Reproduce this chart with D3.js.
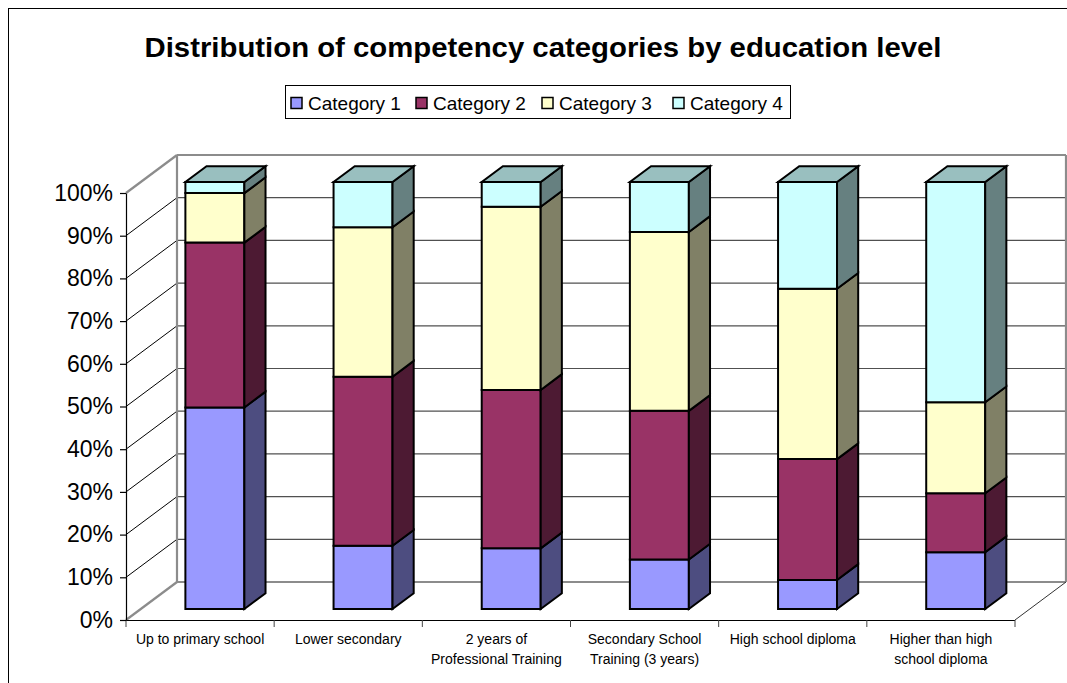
<!DOCTYPE html>
<html>
<head>
<meta charset="utf-8">
<script src="https://cdn.jsdelivr.net/npm/d3@7"></script>
<style>
  html, body { margin: 0; padding: 0; background: #fff; }
  svg { display: block; font-family: "Liberation Sans", Arial, sans-serif; }
</style>
</head>
<body>
<svg id="chart" width="1067" height="683"></svg>
<script>
// ---- data ----
const categories = [
  ["Up to primary school"],
  ["Lower secondary"],
  ["2 years of", "Professional Training"],
  ["Secondary School", "Training (3 years)"],
  ["High school diploma"],
  ["Higher than high", "school diploma"]
];
const seriesNames = ["Category 1", "Category 2", "Category 3", "Category 4"];
const category1 = [47.2, 14.8, 14.2, 11.6, 6.8, 13.3];
const category2 = [38.6, 39.6, 37.1, 34.8, 28.3, 13.8];
const category3 = [11.6, 35.0, 42.9, 41.9, 39.9, 21.3];
const category4 = [2.6, 10.6, 5.8, 11.7, 25.0, 51.6];
const yTicks = [0, 10, 20, 30, 40, 50, 60, 70, 80, 90, 100];

const frontColors = ["#9999FF", "#993366", "#FFFFCC", "#CCFFFF"];
const sideColors  = ["#4D4D80", "#4D1A33", "#808066", "#668080"];
const topColors   = ["#7373BF", "#732653", "#BFBF99", "#99BFBF"];

// ---- layout ----
const svg = d3.select("#chart");
const X0 = 126, X1 = 1015, Y0 = 620, Y1 = 193;
const DX = 51, DY = 38;           // depth offset of back wall
const D_FRONT = 0.29, D_BACK = 0.705; // bar depth within floor

const keys = categories.map(c => c.join(" "));
const xAxisScale = d3.scaleBand().domain(keys).range([X0, X1]).padding(0);
const xBar = d3.scaleBand().domain(keys).range([X0, X1])
  .paddingInner(0.602).paddingOuter(0.301);
const y = d3.scaleLinear().domain([0, 100]).range([Y0, Y1]);

const P = (x, v, d) => [x + d * DX, y(v) - d * DY];
const poly = pts => pts.map(p => p.join(",")).join(" ");

// frame
svg.append("rect").attr("x", 8.5).attr("y", 8.5).attr("width", 1100).attr("height", 700)
  .attr("fill", "none").attr("stroke", "#000").attr("stroke-width", 1);

// title
svg.append("text").attr("x", 543).attr("y", 56.5).attr("text-anchor", "middle")
  .attr("font-size", 27).attr("font-weight", "bold").attr("fill", "#000")
  .attr("textLength", 797).attr("lengthAdjust", "spacingAndGlyphs")
  .text("Distribution of competency categories by education level");

// legend
const lg = svg.append("g");
lg.append("rect").attr("x", 285.5).attr("y", 85.5).attr("width", 505).attr("height", 33)
  .attr("fill", "#fff").attr("stroke", "#000").attr("stroke-width", 1);
const legendX = [291, 416, 542, 673];
seriesNames.forEach((s, i) => {
  lg.append("rect").attr("x", legendX[i]).attr("y", 97.5).attr("width", 11).attr("height", 11)
    .attr("fill", frontColors[i]).attr("stroke", "#000").attr("stroke-width", 1.5);
  lg.append("text").attr("x", legendX[i] + 17).attr("y", 110).attr("font-size", 19)
    .attr("fill", "#000").text(s);
});

// walls
const gray = "#8c8c8c";
const walls = svg.append("g");
// back wall gridlines
yTicks.forEach(t => {
  if (t === 0 || t === 100) return;
  const a = P(X0, t, 1), b = P(X1, t, 1);
  walls.append("line").attr("x1", a[0]).attr("y1", a[1]).attr("x2", b[0]).attr("y2", b[1])
    .attr("stroke", "#505050").attr("stroke-width", 1.2);
  const c = P(X0, t, 0);
  walls.append("line").attr("x1", c[0]).attr("y1", c[1]).attr("x2", a[0]).attr("y2", a[1])
    .attr("stroke", "#000").attr("stroke-width", 1);
});
// wall edges (gray)
const edges = [
  [P(X0, 100, 1), P(X1, 100, 1)],
  [P(X0, 0, 1), P(X1, 0, 1)],
  [P(X0, 100, 1), P(X0, 0, 1)],
  [P(X1, 100, 1), P(X1, 0, 1)],
  [P(X0, 100, 0), P(X0, 100, 1)],
  [P(X0, 0, 0), P(X0, 0, 1)]
];
edges.forEach(([a, b]) => walls.append("line").attr("x1", a[0]).attr("y1", a[1])
  .attr("x2", b[0]).attr("y2", b[1]).attr("stroke", gray).attr("stroke-width", 2.2));
// floor right edge
{
  const a = P(X1, 0, 0), b = P(X1, 0, 1);
  walls.append("line").attr("x1", a[0]).attr("y1", a[1]).attr("x2", b[0]).attr("y2", b[1])
    .attr("stroke", "#333").attr("stroke-width", 1);
}
// floor front edge
walls.append("line").attr("x1", X0).attr("y1", Y0 + 0.5).attr("x2", X1).attr("y2", Y0 + 0.5)
  .attr("stroke", "#000").attr("stroke-width", 1.2);

// x ticks at category boundaries
const bounds = keys.map(k => xAxisScale(k)).concat([X1]);
bounds.forEach(bx => walls.append("line").attr("x1", bx).attr("y1", Y0).attr("x2", bx).attr("y2", Y0 + 7)
  .attr("stroke", "#444").attr("stroke-width", 1));

// y axis
const yAxis = d3.axisLeft(y).tickValues(yTicks).tickFormat(d => d + "%")
  .tickSize(6).tickSizeOuter(0).tickPadding(7);
const ya = svg.append("g").attr("transform", `translate(${X0},0)`).call(yAxis);
ya.select(".domain").attr("stroke", "#000").attr("stroke-width", 1.2);
ya.selectAll(".tick line").attr("stroke", "#000").attr("stroke-width", 1.2);
ya.selectAll(".tick text").attr("font-size", 23).attr("font-family", "Liberation Sans, Arial, sans-serif")
  .attr("fill", "#000");

// bars
const series = [category1, category2, category3, category4];
const bars = svg.append("g");
keys.forEach((k, i) => {
  const xl = xBar(k), xr = xl + xBar.bandwidth();
  let cum = 0;
  series.forEach((s, j) => {
    const v0 = cum, v1 = cum + s[i];
    cum = v1;
    // front
    bars.append("polygon")
      .attr("points", poly([P(xl, v0, D_FRONT), P(xr, v0, D_FRONT), P(xr, v1, D_FRONT), P(xl, v1, D_FRONT)]))
      .attr("fill", frontColors[j]).attr("stroke", "#000").attr("stroke-width", 2).attr("stroke-linejoin", "miter");
    // side
    bars.append("polygon")
      .attr("points", poly([P(xr, v0, D_FRONT), P(xr, v0, D_BACK), P(xr, v1, D_BACK), P(xr, v1, D_FRONT)]))
      .attr("fill", sideColors[j]).attr("stroke", "#000").attr("stroke-width", 2).attr("stroke-linejoin", "miter");
    if (j === series.length - 1) {
      bars.append("polygon")
        .attr("points", poly([P(xl, v1, D_FRONT), P(xr, v1, D_FRONT), P(xr, v1, D_BACK), P(xl, v1, D_BACK)]))
        .attr("fill", topColors[j]).attr("stroke", "#000").attr("stroke-width", 2).attr("stroke-linejoin", "miter");
    }
  });
});

// x labels
const xl = svg.append("g");
categories.forEach((lines, i) => {
  const cx = xAxisScale(keys[i]) + xAxisScale.bandwidth() / 2;
  const t = xl.append("text").attr("text-anchor", "middle").attr("font-size", 14).attr("fill", "#000");
  lines.forEach((ln, li) => t.append("tspan").attr("x", cx).attr("y", 644 + li * 20).text(ln));
});
</script>
</body>
</html>
